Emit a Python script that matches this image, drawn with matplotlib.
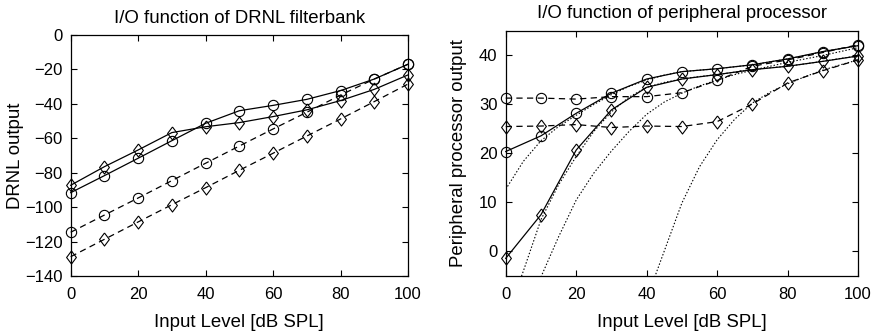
import matplotlib
matplotlib.use("Agg")
import matplotlib.pyplot as plt
import numpy as np

plt.rcParams['font.family'] = ['Liberation Sans', 'DejaVu Sans']
plt.rcParams['font.size'] = 12

# Input levels (dB SPL)
levels = [0, 10, 20, 30, 40, 50, 60, 70, 80, 90, 100]

# DRNL filterbank output
drnl_solid_circle = [-91.6, -81.7, -71.6, -61.4, -51.3, -44.0, -40.9, -37.4, -32.3, -25.6, -17.0]
drnl_solid_diamond = [-87.3, -76.5, -66.8, -56.7, -53.3, -50.9, -47.4, -43.5, -38.1, -31.6, -23.2]
drnl_dashed_circle = [-114.6, -104.6, -94.7, -84.6, -74.5, -64.5, -54.6, -44.9, -34.9, -25.6, -17.0]
drnl_dashed_diamond = [-128.8, -118.7, -108.6, -98.6, -88.7, -78.6, -68.7, -58.7, -48.8, -38.7, -28.5]

# Peripheral processor output
pp_solid_circle = [20.4, 23.6, 28.2, 32.3, 35.2, 36.7, 37.3, 38.1, 39.3, 40.8, 42.0]
pp_solid_diamond = [-1.4, 7.5, 20.7, 28.9, 33.5, 35.2, 36.1, 37.1, 37.8, 38.8, 39.9]
pp_dashed_circle = [31.3, 31.3, 31.1, 31.6, 31.6, 32.4, 34.9, 37.8, 39.1, 40.6, 42.2]
pp_dashed_diamond = [25.5, 25.6, 25.9, 25.3, 25.6, 25.5, 26.5, 30.1, 34.4, 36.9, 39.1]

# Model curves (finer level grid)
fine_levels = [0, 5, 10, 15, 20, 25, 30, 35, 40, 45, 50, 55, 60, 65, 70, 75, 80, 85, 90, 95, 100]
model_a = [12.7, 18.4, 22.6, 25.5, 27.8, 30.0, 32.0, 33.7, 35.0, 36.0, 36.7, 37.0, 37.3, 37.7, 38.1, 38.7, 39.3, 40.0, 40.8, 41.4, 42.0]
model_b = [-14.0, -4.0, 6.5, 13.6, 19.4, 24.5, 28.5, 31.5, 33.5, 34.5, 35.2, 35.7, 36.1, 36.6, 37.1, 37.5, 37.8, 38.3, 38.8, 39.4, 39.9]
model_c = [-26.0, -15.5, -5.2, 3.0, 10.5, 16.0, 20.5, 24.5, 28.0, 30.5, 32.3, 33.8, 35.0, 36.1, 37.0, 37.8, 38.6, 39.3, 40.0, 40.8, 41.6]
model_d = [-90.0, -80.0, -70.0, -60.0, -50.0, -40.0, -30.0, -20.0, -9.7, 0.1, 9.9, 17.3, 22.8, 27.0, 30.3, 32.5, 34.2, 35.7, 37.0, 38.1, 39.1]

diamond = [(0, 1), (0.75, 0), (0, -1), (-0.75, 0), (0, 1)]
ms_c = 7.4
ms_d = 9.4
lw = 0.9
dash = (0, (5, 3.5))
dot = (0, (1.3, 1.7))
tick_fs = 12
text_fs = 13.4

fig = plt.figure(figsize=(8.78, 3.36), dpi=100)
ax1 = fig.add_axes([0.0805, 0.1786, 0.3842, 0.7173])
ax2 = fig.add_axes([0.576, 0.1786, 0.4013, 0.7292])

def style(ax):
    ax.tick_params(direction='in', length=4, width=0.8, top=True, right=True,
                   labelsize=tick_fs)
    ax.tick_params(axis='x', pad=8)
    ax.tick_params(axis='y', pad=6)
    for s in ax.spines.values():
        s.set_linewidth(0.9)
        s.set_color('black')

def place_labels(ax, xlab_y, ylab_x):
    ax.xaxis.label.set_va('center')
    ax.xaxis.set_label_coords(0.5, xlab_y)
    ax.yaxis.label.set_va('center')
    ax.yaxis.set_label_coords(ylab_x, 0.5)

mk = dict(color='black', lw=lw, mfc='none', mec='black', mew=0.8, clip_on=False)

ax1.plot(levels, drnl_solid_circle, marker='o', ms=ms_c, ls='-', **mk)
ax1.plot(levels, drnl_solid_diamond, marker=diamond, ms=ms_d, ls='-', **mk)
ax1.plot(levels, drnl_dashed_circle, marker='o', ms=ms_c, ls=dash, **mk)
ax1.plot(levels, drnl_dashed_diamond, marker=diamond, ms=ms_d, ls=dash, **mk)
ax1.set_xlim(0, 100)
ax1.set_ylim(-140, 0)
ax1.set_xticks(np.arange(0, 101, 20))
ax1.set_yticks(np.arange(-140, 1, 20))
ax1.set_title('I/O function of DRNL filterbank', fontsize=text_fs,
              y=1.07, va='center', pad=0)
ax1.set_xlabel('Input Level [dB SPL]', fontsize=text_fs)
ax1.set_ylabel('DRNL output', fontsize=text_fs)
style(ax1)
place_labels(ax1, -0.191, -0.165)

for m in (model_a, model_b, model_c, model_d):
    ax2.plot(fine_levels, m, color='black', lw=0.8, ls=dot)
ax2.plot(levels, pp_solid_circle, marker='o', ms=ms_c, ls='-', **mk)
ax2.plot(levels, pp_solid_diamond, marker=diamond, ms=ms_d, ls='-', **mk)
ax2.plot(levels, pp_dashed_circle, marker='o', ms=ms_c, ls=dash, **mk)
ax2.plot(levels, pp_dashed_diamond, marker=diamond, ms=ms_d, ls=dash, **mk)
ax2.set_xlim(0, 100)
ax2.set_ylim(-5, 45)
ax2.set_xticks(np.arange(0, 101, 20))
ax2.set_yticks(np.arange(0, 41, 10))
ax2.set_title('I/O function of peripheral processor', fontsize=text_fs,
              y=1.073, va='center', pad=0)
ax2.set_xlabel('Input Level [dB SPL]', fontsize=text_fs)
ax2.set_ylabel('Peripheral processor output', fontsize=text_fs)
style(ax2)
place_labels(ax2, -0.188, -0.135)

fig.savefig('out.png', dpi=100)
